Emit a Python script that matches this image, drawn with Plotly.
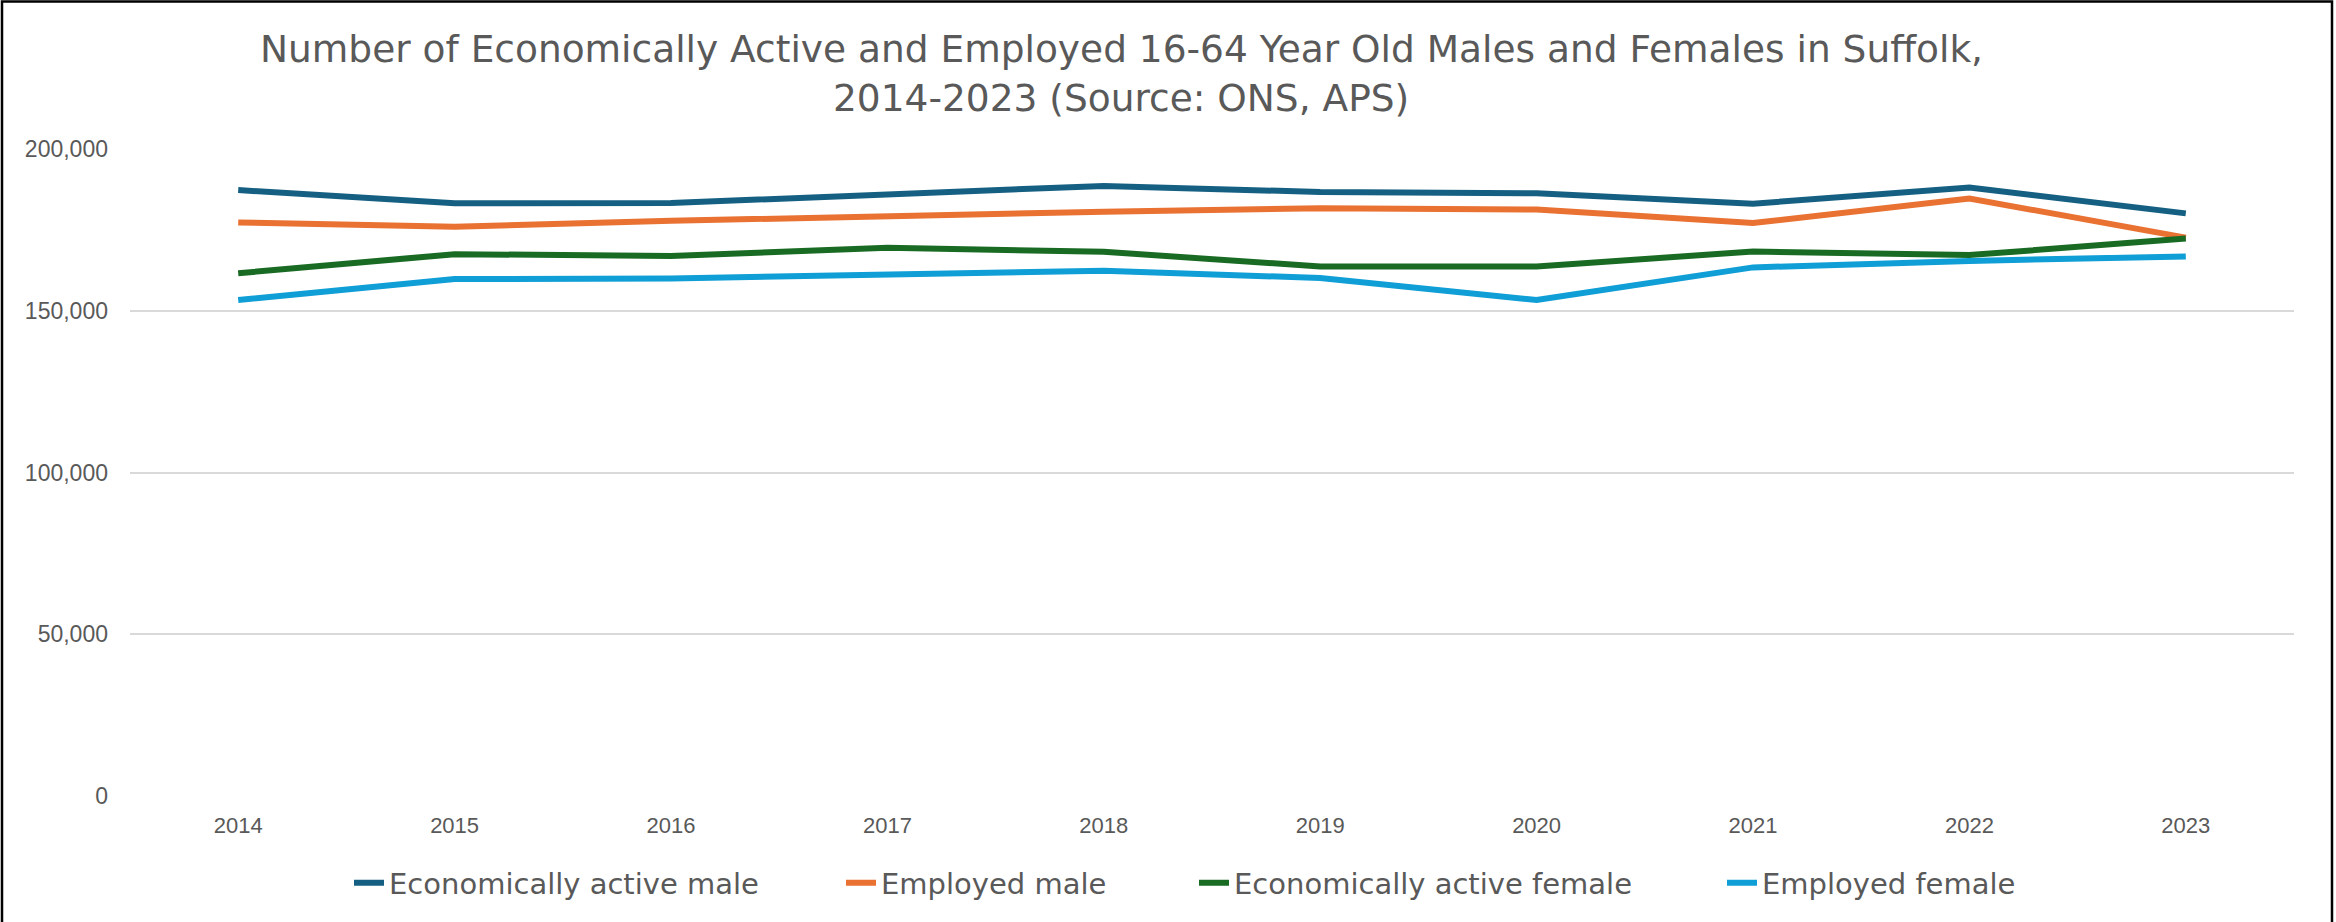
import plotly.graph_objects as go

years = ["2014", "2015", "2016", "2017", "2018", "2019", "2020", "2021", "2022", "2023"]
econ_active_male = [187300, 183200, 183300, 186000, 188600, 186700, 186300, 183100, 188100, 180100]
employed_male = [177300, 176000, 177800, 179300, 180600, 181700, 181300, 177100, 184700, 172600]
econ_active_female = [161600, 167500, 166900, 169500, 168200, 163700, 163700, 168300, 167200, 172300]
employed_female = [153300, 159800, 160000, 161100, 162400, 160100, 153300, 163400, 165400, 166800]

series_names = ["Economically active male", "Employed male", "Economically active female", "Employed female"]
series_values = [econ_active_male, employed_male, econ_active_female, employed_female]
colors = ["#156082", "#E97132", "#196B24", "#0F9ED5"]

W, H = 2336, 922
# plot area in page pixels
PL, PR, PT, PB = 130, 2294, 149, 796
L, T, R, B = PL, PT, W - PR, H - PB
pw, ph = PR - PL, PB - PT

def px_x(x):
    return (x - PL) / pw

def px_y(y):
    return (PB - y) / ph

legend_ids = ["legend", "legend2", "legend3", "legend4"]
legend_text_starts = [389, 881, 1234, 1762]

fig = go.Figure()
for name, vals, col, lid in zip(series_names, series_values, colors, legend_ids):
    fig.add_trace(go.Scatter(x=years, y=vals, mode="lines", name=name, legend=lid,
                             line=dict(color=col, width=6)))

legend_font = dict(family="Verdana, DejaVu Sans", size=29, color="#595959")
legend_layouts = {}
for lid, xs in zip(legend_ids, legend_text_starts):
    legend_layouts[lid] = dict(orientation="h", x=px_x(xs - 40), xanchor="left",
                               y=px_y(883), yanchor="middle", font=legend_font,
                               bgcolor="rgba(0,0,0,0)", borderwidth=0)

title_font = dict(family="Verdana, DejaVu Sans", size=37.5, color="#595959")
fig.update_layout(
    width=W, height=H,
    margin=dict(l=L, r=R, t=T, b=B, autoexpand=False),
    paper_bgcolor="white", plot_bgcolor="white",
    showlegend=True,
    annotations=[
        dict(text="Number of Economically Active and Employed 16-64 Year Old Males and Females in Suffolk,",
             x=px_x(1121), y=px_y(49), xref="paper", yref="paper", showarrow=False,
             xanchor="center", yanchor="middle", font=title_font),
        dict(text="2014-2023 (Source: ONS, APS)",
             x=px_x(1121), y=px_y(98), xref="paper", yref="paper", showarrow=False,
             xanchor="center", yanchor="middle", font=title_font),
    ],
    shapes=[dict(type="rect", xref="paper", yref="paper",
                 x0=px_x(2), x1=px_x(2332), y0=px_y(940), y1=px_y(1.5),
                 line=dict(color="black", width=2.5), fillcolor="rgba(0,0,0,0)", layer="above")],
    **legend_layouts,
)
fig.update_xaxes(type="category", range=[-0.5, 9.5], showgrid=False, showline=False, zeroline=False,
                 ticks="", ticklabelstandoff=14, automargin=False,
                 tickfont=dict(family="Liberation Sans, Arial", size=22, color="#595959"))
fig.update_yaxes(range=[0, 200000], tickvals=[0, 50000, 100000, 150000, 200000],
                 ticktext=["0", "50,000", "100,000", "150,000", "200,000"],
                 showgrid=True, gridcolor="#D9D9D9", gridwidth=2, zeroline=False, showline=False,
                 ticks="", ticklabelstandoff=21, automargin=False,
                 tickfont=dict(family="Liberation Sans, Arial", size=23, color="#595959"))

fig.write_html("out.html", config={"displayModeBar": False},
               post_script="document.body.style.margin='0';document.body.style.overflow='hidden';")
